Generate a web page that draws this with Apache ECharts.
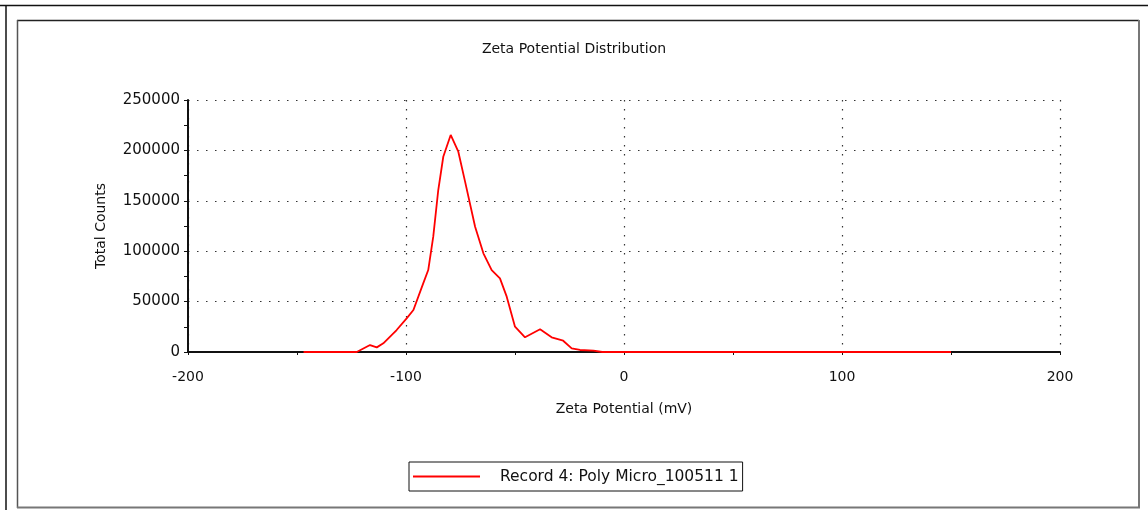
<!DOCTYPE html>
<html>
<head>
<meta charset="utf-8">
<script src="https://cdn.jsdelivr.net/npm/echarts@6/dist/echarts.min.js"></script>
<style>
html,body{margin:0;padding:0;background:#fff;}
#chart{width:1148px;height:510px;}
</style>
</head>
<body>
<div id="chart"></div>
<script>
// Data
const zetaMv = [-147, -122.6, -116.5, -113.4, -110.4, -104.3, -99.7, -96.6, -92.1, -89.8, -87.5, -85.2, -82.9, -79.5, -76, -72.9, -68.3, -64.5, -60.7, -56.9, -53.8, -50, -45.4, -38.5, -33.2, -27.9, -24, -20.2, -14, -10, 0, 50, 100, 150];
const totalCounts = [0, 0, 6900, 4600, 8600, 21800, 33400, 41700, 68100, 81300, 114400, 160700, 193700, 215300, 198700, 169000, 124300, 97900, 81300, 73100, 54900, 25100, 14600, 22500, 14600, 11200, 3600, 2000, 1300, 0, 0, 0, 0, 0];
const titleText = 'Zeta Potential Distribution';
const xName = 'Zeta Potential (mV)';
const yName = 'Total Counts';
const seriesName = 'Record 4: Poly Micro_100511 1';

const FONT = 'DejaVu Sans';
const chart = echarts.init(document.getElementById('chart'), null, {renderer: 'canvas'});
const dotted = {color: '#333', width: 1.2, type: [1.5, 7.5]};
chart.setOption({
  animation: false,
  backgroundColor: '#fff',
  title: {
    text: titleText, left: 'center', top: 37,
    textStyle: {fontFamily: FONT, fontSize: 14, fontWeight: 'normal', color: '#111'}
  },
  legend: {
    left: 409, top: 462,
    data: [{name: seriesName, icon: 'rect'}],
    borderColor: '#111', borderWidth: 1,
    padding: [6, 4, 6, 4],
    itemWidth: 67, itemHeight: 2,
    textStyle: {fontFamily: FONT, fontSize: 15.5, color: '#111', padding: [0, 0, 0, 15], lineHeight: 17}
  },
  grid: {left: 188, right: 88, top: 100, bottom: 158},
  xAxis: {
    type: 'value', min: -200, max: 200, interval: 100,
    name: xName, nameLocation: 'middle', nameGap: 50,
    nameTextStyle: {fontFamily: FONT, fontSize: 14, color: '#111'},
    axisLine: {show: true, onZero: false, lineStyle: {color: '#111', width: 2}},
    axisTick: {show: true, length: 3, lineStyle: {color: '#111'}},
    minorTick: {show: true, splitNumber: 2, length: 3, lineStyle: {color: '#111'}},
    axisLabel: {fontFamily: FONT, fontSize: 14, color: '#111', margin: 18},
    splitLine: {show: true, lineStyle: dotted}
  },
  yAxis: {
    type: 'value', min: 0, max: 250000, interval: 50000,
    name: yName, nameLocation: 'middle', nameGap: 80, nameRotate: 90,
    nameTextStyle: {fontFamily: FONT, fontSize: 14, color: '#111'},
    axisLine: {show: true, onZero: false, lineStyle: {color: '#111', width: 2}},
    axisTick: {show: true, length: 4, lineStyle: {color: '#111'}},
    minorTick: {show: true, splitNumber: 2, length: 4, lineStyle: {color: '#111'}},
    axisLabel: {fontFamily: FONT, fontSize: 15, color: '#111', margin: 8, formatter: v => String(v)},
    splitLine: {show: true, lineStyle: dotted}
  },
  series: [{
    name: seriesName,
    type: 'line',
    data: zetaMv.map((x, i) => [x, totalCounts[i]]),
    symbol: 'none',
    lineStyle: {color: '#ff0000', width: 1.8},
    itemStyle: {color: '#ff0000'},
    z: 5
  }],
  graphic: [
    {type: 'line', shape: {x1: 0, y1: 5.5, x2: 1148, y2: 5.5}, style: {stroke: '#111', lineWidth: 1.5}},
    {type: 'line', shape: {x1: 6, y1: 5, x2: 6, y2: 510}, style: {stroke: '#111', lineWidth: 1.5}},
    {type: 'line', shape: {x1: 17, y1: 20.5, x2: 1139, y2: 20.5}, style: {stroke: '#222', lineWidth: 1.5}},
    {type: 'line', shape: {x1: 17.5, y1: 20, x2: 17.5, y2: 508}, style: {stroke: '#555', lineWidth: 1.5}},
    {type: 'line', shape: {x1: 1139, y1: 20, x2: 1139, y2: 508}, style: {stroke: '#777', lineWidth: 2}},
    {type: 'line', shape: {x1: 17, y1: 507.5, x2: 1140, y2: 507.5}, style: {stroke: '#777', lineWidth: 2}}
  ]
});
</script>
</body>
</html>
